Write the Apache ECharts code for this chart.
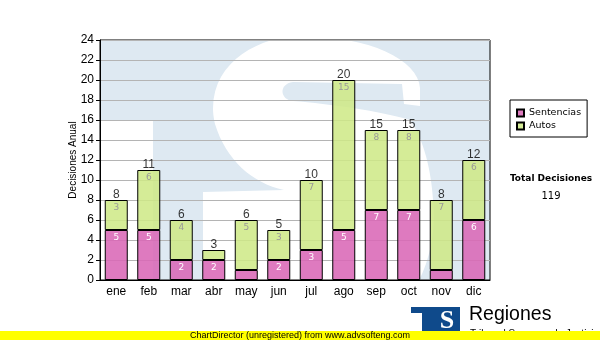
<!DOCTYPE html>
<html>
<head>
<meta charset="utf-8">
<title>Decisiones Anual</title>
<script src="https://cdn.jsdelivr.net/npm/echarts@6/dist/echarts.min.js"></script>
<style>
  html, body { margin: 0; padding: 0; background: #ffffff; }
  #chart { width: 600px; height: 340px; }
</style>
</head>
<body>
<div id="chart"></div>
<script>
// Monthly decisions, split by type
const meses = ['ene', 'feb', 'mar', 'abr', 'may', 'jun', 'jul', 'ago', 'sep', 'oct', 'nov', 'dic'];
const sentencias = [5, 5, 2, 2, 1, 2, 3, 5, 7, 7, 1, 6];
const autos = [3, 6, 4, 1, 5, 3, 7, 15, 8, 8, 7, 6];
const yTicks = { min: 0, max: 24, interval: 2 };

const totales = meses.map((_, i) => sentencias[i] + autos[i]);
const totalDecisiones = totales.reduce((a, b) => a + b, 0);

// Plot box
const G = { left: 100, top: 40, width: 390, height: 240 };
const GR = G.left + G.width, GB = G.top + G.height;

const WM = '#dee9f2';      // light watermark blue
const LOGO = '#0f4a8b';    // logo blue

// Outline of the watermark "S": start point, then cubic ('C') and straight ('L') segments
const sOutline = [
  ['M', 420, 88],
  ['C', 418, 60, 370, 36, 300, 36],
  ['C', 262, 36, 213, 60, 213, 108],
  ['C', 213, 114, 214, 120, 215, 124],
  ['C', 226, 160, 252, 183, 284, 190],
  ['L', 203, 192],
  ['L', 203, 282],
  ['L', 418, 282],
  ['C', 430, 260, 436, 230, 433, 200],
  ['C', 431, 170, 424, 140, 410, 120],
  ['C', 380, 111, 330, 104, 293, 101],
  ['C', 280, 100, 278, 84, 293, 82],
  ['L', 402, 84],
  ['L', 404, 104],
  ['L', 420, 106]
];

// Flatten the outline into polygon points
function flatten(outline, steps) {
  const pts = [];
  let cx = 0, cy = 0;
  outline.forEach((s) => {
    if (s[0] === 'M' || s[0] === 'L') {
      cx = s[1]; cy = s[2];
      pts.push([cx, cy]);
    } else {
      const [, x1, y1, x2, y2, x3, y3] = s;
      for (let k = 1; k <= steps; k++) {
        const t = k / steps, u = 1 - t;
        pts.push([
          u * u * u * cx + 3 * u * u * t * x1 + 3 * u * t * t * x2 + t * t * t * x3,
          u * u * u * cy + 3 * u * u * t * y1 + 3 * u * t * t * y2 + t * t * t * y3
        ]);
      }
      cx = x3; cy = y3;
    }
  });
  return pts;
}

const chart = echarts.init(document.getElementById('chart'), null, { renderer: 'canvas' });

const insideLabel = (color) => ({
  show: true,
  position: 'insideTop',
  distance: 3,
  color: color,
  fontFamily: 'DejaVu Sans',
  fontSize: 9,
  formatter: (p) => (p.value >= 2 ? String(p.value) : '')
});

chart.setOption({
  animation: false,
  backgroundColor: '#ffffff',
  grid: {
    left: G.left, top: G.top, width: G.width, height: G.height,
    show: true, borderColor: '#000000', borderWidth: 1, backgroundColor: 'transparent'
  },
  legend: {
    data: ['Sentencias', 'Autos'],
    orient: 'vertical',
    left: 510, top: 100,
    padding: [7, 6, 5, 6],
    borderColor: '#000000', borderWidth: 1,
    backgroundColor: '#ffffff',
    itemWidth: 7, itemHeight: 7, itemGap: 1,
    icon: 'rect',
    textStyle: { fontFamily: 'DejaVu Sans', fontSize: 9.5, color: '#000000', lineHeight: 12 }
  },
  xAxis: {
    type: 'category',
    data: meses,
    axisLine: { lineStyle: { color: '#000000', width: 1 } },
    axisTick: { alignWithLabel: true, length: 3, lineStyle: { color: '#000000' } },
    axisLabel: { color: '#000000', fontFamily: 'Liberation Sans', fontSize: 12, margin: 6 },
    splitLine: { show: false }
  },
  yAxis: {
    type: 'value',
    min: yTicks.min, max: yTicks.max, interval: yTicks.interval,
    name: 'Decisiones Anual',
    nameLocation: 'middle',
    nameGap: 22,
    nameMoveOverlap: false,
    nameTextStyle: { color: '#000000', fontFamily: 'Liberation Sans', fontSize: 10 },
    axisLine: { show: true, lineStyle: { color: '#000000', width: 1 } },
    axisTick: { show: true, length: 4, lineStyle: { color: '#000000' } },
    axisLabel: { color: '#000000', fontFamily: 'Liberation Sans', fontSize: 12, margin: 6 },
    splitLine: { show: true, lineStyle: { color: '#b4b4b4', width: 1 } }
  },
  series: [
    {
      name: 'Sentencias', type: 'bar', stack: 'd', data: sentencias,
      barWidth: 23,
      itemStyle: { color: 'rgba(217,104,182,0.88)', borderColor: '#000000', borderWidth: 1 },
      label: insideLabel('#ffffff'),
      z: 3
    },
    {
      name: 'Autos', type: 'bar', stack: 'd', data: autos,
      barWidth: 23,
      itemStyle: { color: 'rgba(206,233,134,0.86)', borderColor: '#000000', borderWidth: 1 },
      label: insideLabel('#999999'),
      z: 3
    },
    {
      name: 'Total', type: 'scatter', data: totales,
      symbolSize: 1,
      itemStyle: { color: 'rgba(0,0,0,0)' },
      label: {
        show: true, position: 'top', distance: -1,
        color: '#000000', fontFamily: 'Liberation Sans', fontSize: 12
      },
      z: 5, silent: true
    }
  ],
  graphic: [
    {
      type: 'polygon', z: -20, silent: true,
      shape: { points: [[G.left, G.top], [GR, G.top], [GR, GB], [153, GB], [153, 120], [G.left, 120]] },
      style: { fill: WM }
    },
    {
      type: 'polygon', z: -19, silent: true,
      shape: { points: flatten(sOutline, 16) },
      style: { fill: '#ffffff' }
    },
    // Small logo: "T" bar and stem, then the "S" block
    {
      type: 'polygon', z: 10, silent: true,
      shape: { points: [[411, 307], [460, 307], [460, 334], [422, 334], [422, 313], [411, 313]] },
      style: { fill: LOGO }
    },
    {
      type: 'text', z: 11, silent: true,
      style: {
        text: 'S', x: 447, y: 321, align: 'center', verticalAlign: 'middle',
        font: 'bold 26px "Liberation Serif"', fill: '#ffffff'
      }
    },
    {
      type: 'text', z: 11, silent: true,
      style: {
        text: 'Regiones', x: 469, y: 315, align: 'left', verticalAlign: 'middle',
        font: '19.5px "Liberation Sans"', fill: '#000000'
      }
    },
    {
      type: 'text', z: 11, silent: true,
      style: {
        text: 'Tribunal Supremo de Justicia', x: 470, y: 334, align: 'left', verticalAlign: 'middle',
        font: '10px "Liberation Sans"', fill: '#000000'
      }
    },
    // Grand total block
    {
      type: 'text', z: 11, silent: true,
      style: {
        text: 'Total Decisiones', x: 551, y: 179, align: 'center', verticalAlign: 'middle',
        font: 'bold 9px "DejaVu Sans"', fill: '#000000'
      }
    },
    {
      type: 'text', z: 11, silent: true,
      style: {
        text: String(totalDecisiones), x: 551, y: 196, align: 'center', verticalAlign: 'middle',
        font: '10px "DejaVu Sans"', fill: '#000000'
      }
    },
    // Footer strip
    {
      type: 'rect', z: 50, silent: true,
      shape: { x: 0, y: 331, width: 600, height: 9 },
      style: { fill: '#ffff00' }
    },
    {
      type: 'text', z: 51, silent: true,
      style: {
        text: 'ChartDirector (unregistered) from www.advsofteng.com', x: 300, y: 335.5,
        align: 'center', verticalAlign: 'middle',
        font: '9px "Liberation Sans"', fill: '#000000'
      }
    }
  ]
});
</script>
</body>
</html>
